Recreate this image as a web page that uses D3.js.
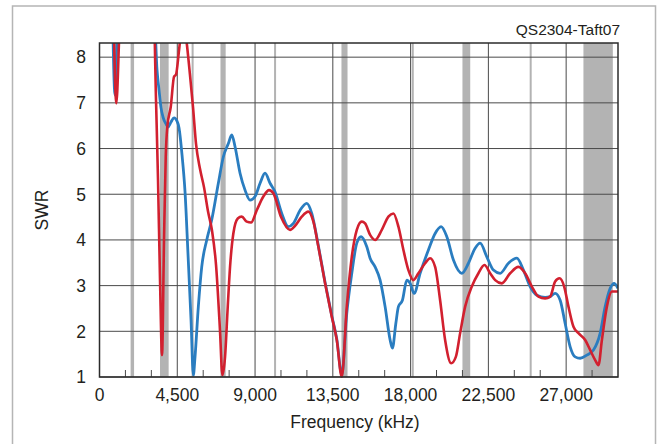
<!DOCTYPE html>
<html>
<head>
<meta charset="utf-8">
<script src="https://cdn.jsdelivr.net/npm/d3@7"></script>
<style>
  body { margin: 0; background: #fff; }
  svg text { font-family: "Liberation Sans", Arial, sans-serif; fill: #231f20; }
</style>
</head>
<body>
<div id="chart"></div>
<script>
// ham bands in kHz (drawn as gray columns)
var bandStart = [1800, 3500, 5330, 7000, 10100, 14000, 18068, 21000, 24890, 28000];
var bandEnd   = [2000, 4000, 5405, 7300, 10150, 14350, 18168, 21450, 24990, 29700];

var xTicks = [0, 4500, 9000, 13500, 18000, 22500, 27000];
var xMinorTicks = [1500, 3000, 6000, 7500, 10500, 12000, 15000, 16500, 19500, 21000, 24000, 25500, 28500];
var yTicks = [1, 2, 3, 4, 5, 6, 7, 8];

// [frequency kHz, SWR]
var blueData = [[752, 9.0], [897, 7.17], [1071, 9.0], [3097, 9.5], [3328, 7.72], [3444, 7.28], [3560, 6.89], [3675, 6.69],
  [3849, 6.54], [3965, 6.47], [4138, 6.58], [4312, 6.67], [4486, 6.60], [4602, 6.45], [4775, 5.86], [4949, 5.05],
  [5123, 3.67], [5296, 2.25], [5429, 1.04], [5527, 1.44], [5719, 2.54], [5915, 3.41], [6205, 4.00], [6494, 4.44],
  [6876, 5.24], [7166, 5.82], [7455, 6.11], [7652, 6.30], [7843, 6.04], [8132, 5.46], [8422, 5.09], [8711, 4.87],
  [9000, 4.95], [9290, 5.24], [9579, 5.46], [9869, 5.24], [10158, 5.05], [10546, 4.58], [10928, 4.29], [11217, 4.36],
  [11605, 4.65], [11993, 4.80], [12282, 4.58], [12664, 3.87], [13052, 3.07], [13440, 2.34], [13729, 1.83], [14019, 1.05],
  [14308, 2.40], [14597, 3.27], [14887, 3.93], [15136, 4.07], [15466, 3.85], [15657, 3.60], [15946, 3.41], [16236, 3.12],
  [16525, 2.54], [16815, 1.81], [16948, 1.63], [17145, 2.17], [17295, 2.54], [17527, 2.68], [17781, 3.12], [17972, 3.05],
  [18203, 2.83], [18551, 3.27], [19031, 3.78], [19419, 4.14], [19766, 4.29], [20096, 4.07], [20478, 3.56], [20964, 3.27],
  [21346, 3.49], [21734, 3.82], [22023, 3.93], [22411, 3.63], [22793, 3.34], [23181, 3.27], [23661, 3.49], [24147, 3.60],
  [24529, 3.34], [24917, 2.98], [25305, 2.79], [25785, 2.74], [26075, 2.76], [26364, 2.83], [26654, 2.68], [26943, 2.17],
  [27232, 1.66], [27522, 1.44], [27811, 1.41], [28199, 1.48], [28581, 1.59], [28969, 1.96], [29258, 2.54], [29548, 2.94],
  [29779, 3.05], [30000, 2.94]];

var redData = [[810, 9.0], [972, 6.99], [1215, 9.0], [3039, 10.5], [3270, 7.06], [3386, 5.31], [3502, 3.12], [3618, 1.48],
  [3733, 4.00], [3832, 5.82], [3924, 6.48], [4121, 6.91], [4312, 7.57], [4428, 7.62], [4602, 8.15], [4717, 8.5],
  [4949, 8.6], [5065, 8.25], [5238, 7.6], [5412, 6.9], [5585, 6.1], [5817, 5.55], [6048, 5.15], [6280, 4.62],
  [6511, 4.2], [6743, 3.45], [6974, 2.0], [7108, 1.04], [7264, 1.44], [7420, 2.54], [7553, 3.41], [7744, 4.14],
  [7999, 4.47], [8231, 4.51], [8520, 4.40], [8769, 4.38], [9099, 4.65], [9481, 4.95], [9811, 5.09], [10060, 5.02],
  [10505, 4.5], [11026, 4.22], [11315, 4.31], [11703, 4.51], [12085, 4.62], [12375, 4.40], [12664, 3.85], [13052, 3.05],
  [13440, 2.32], [13729, 1.81], [14019, 1.0], [14308, 2.54], [14597, 3.63], [14887, 4.22], [15176, 4.40], [15367, 4.36],
  [15657, 4.11], [15946, 4.00], [16334, 4.22], [16716, 4.51], [17005, 4.58], [17295, 4.29], [17584, 3.78], [17873, 3.34],
  [18163, 3.12], [18452, 3.27], [18840, 3.49], [19129, 3.60], [19419, 3.41], [19708, 2.68], [19997, 1.81], [20345, 1.30],
  [20617, 1.44], [20866, 1.96], [21156, 2.54], [21543, 2.98], [21925, 3.27], [22273, 3.45], [22603, 3.27], [22892, 3.12],
  [23279, 3.05], [23760, 3.27], [24240, 3.41], [24628, 3.27], [25016, 2.98], [25397, 2.76], [25785, 2.72], [26075, 2.76],
  [26364, 3.09], [26613, 3.16], [26885, 2.98], [27134, 2.54], [27424, 2.10], [27713, 1.96], [28101, 1.81], [28390, 1.59],
  [28680, 1.37], [28871, 1.26], [29068, 1.81], [29357, 2.54], [29646, 2.87], [30000, 2.87]];

var width = 658, height = 444;
var plotL = 99.5, plotR = 618, plotT = 43, plotB = 377;

var svg = d3.select("#chart").append("svg")
    .attr("width", width)
    .attr("height", height);

var x = d3.scaleLinear().domain([0, 30000]).range([plotL, plotR]);
var y = d3.scaleLinear().domain([1, 8.31]).range([plotB, plotT]);

// outer frame of the figure
svg.append("rect")
    .attr("x", 12.5).attr("y", 6)
    .attr("width", 643).attr("height", 450)
    .attr("fill", "none")
    .attr("stroke", "#b5b5b5")
    .attr("stroke-width", 1.5);

svg.append("text")
    .attr("x", 620).attr("y", 35)
    .attr("text-anchor", "end")
    .style("font-size", "15.5px")
    .text("QS2304-Taft07");

// bands
svg.append("g").selectAll("rect")
  .data(bandStart)
  .enter().append("rect")
    .attr("x", function(d) { return x(d); })
    .attr("y", plotT)
    .attr("width", function(d, i) { return Math.max(2, x(bandEnd[i]) - x(d)); })
    .attr("height", plotB - plotT)
    .attr("fill", "#b3b3b3");

// grid
svg.append("g").selectAll("line")
  .data(xTicks)
  .enter().append("line")
    .attr("x1", x).attr("x2", x)
    .attr("y1", plotT).attr("y2", plotB)
    .attr("stroke", "#4a4a4a")
    .attr("stroke-width", 1);

svg.append("g").selectAll("line")
  .data(yTicks)
  .enter().append("line")
    .attr("x1", plotL).attr("x2", plotR)
    .attr("y1", y).attr("y2", y)
    .attr("stroke", "#4a4a4a")
    .attr("stroke-width", 1);

svg.append("g").selectAll("line")
  .data(xMinorTicks)
  .enter().append("line")
    .attr("x1", x).attr("x2", x)
    .attr("y1", plotB).attr("y2", plotB - 7)
    .attr("stroke", "#4a4a4a")
    .attr("stroke-width", 1);

// curves
svg.append("clipPath").attr("id", "plot-clip")
  .append("rect")
    .attr("x", plotL).attr("y", plotT)
    .attr("width", plotR - plotL).attr("height", plotB - plotT + 1);

var line = d3.line()
    .x(function(d) { return x(d[0]); })
    .y(function(d) { return y(d[1]); })
    .curve(d3.curveMonotoneX);

var curves = svg.append("g").attr("clip-path", "url(#plot-clip)");

curves.append("path")
    .datum(blueData)
    .attr("d", line)
    .attr("fill", "none")
    .attr("stroke", "#2a7dc0")
    .attr("stroke-width", 2.8)
    .attr("stroke-linejoin", "round");

curves.append("path")
    .datum(redData)
    .attr("d", line)
    .attr("fill", "none")
    .attr("stroke", "#d2202f")
    .attr("stroke-width", 2.6)
    .attr("stroke-linejoin", "round");

// plot frame
svg.append("rect")
    .attr("x", plotL).attr("y", plotT)
    .attr("width", plotR - plotL).attr("height", plotB - plotT)
    .attr("fill", "none")
    .attr("stroke", "#2b2b2b")
    .attr("stroke-width", 1.5);

// tick labels
svg.append("g").selectAll("text")
  .data(xTicks)
  .enter().append("text")
    .attr("x", x)
    .attr("y", 401)
    .attr("text-anchor", "middle")
    .style("font-size", "17.5px")
    .text(function(d) { return d3.format(",")(d); });

svg.append("g").selectAll("text")
  .data(yTicks)
  .enter().append("text")
    .attr("x", 86)
    .attr("y", y)
    .attr("dy", "0.36em")
    .attr("text-anchor", "end")
    .style("font-size", "17.5px")
    .text(function(d) { return d; });

svg.append("text")
    .attr("x", 355).attr("y", 428)
    .attr("text-anchor", "middle")
    .style("font-size", "17.5px")
    .text("Frequency (kHz)");

svg.append("text")
    .attr("transform", "translate(48,210) rotate(-90)")
    .attr("text-anchor", "middle")
    .style("font-size", "17.5px")
    .text("SWR");
</script>
</body>
</html>
